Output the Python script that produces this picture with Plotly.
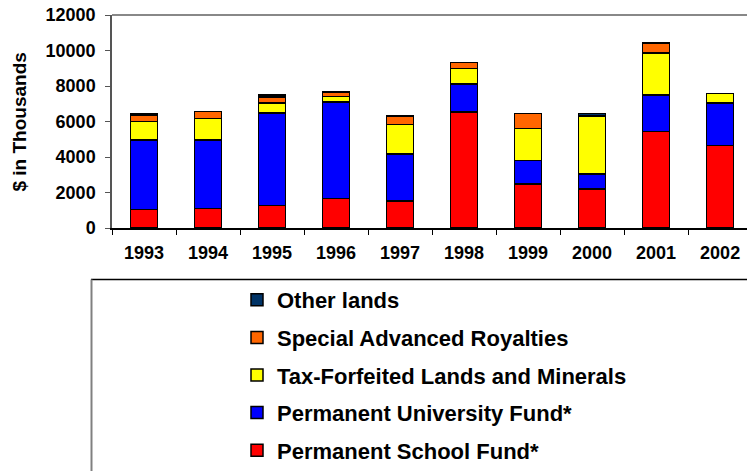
import plotly.graph_objects as go

years = ["1993", "1994", "1995", "1996", "1997", "1998", "1999", "2000", "2001", "2002"]
school = [1030, 1090, 1260, 1660, 1510, 6540, 2470, 2200, 5440, 4650]
university = [3940, 3880, 5220, 5440, 2670, 1580, 1320, 830, 2040, 2380]
tax_forfeited = [1020, 1190, 550, 300, 1660, 870, 1820, 3260, 2390, 540]
special = [340, 400, 360, 250, 470, 340, 850, 30, 550, None]
other = [90, None, 110, 20, None, None, None, 140, None, None]
y_ticks = [0, 2000, 4000, 6000, 8000, 10000, 12000]

series = [
    ("Permanent School Fund*", school, "#FF0000"),
    ("Permanent University Fund*", university, "#0000FF"),
    ("Tax-Forfeited Lands and Minerals", tax_forfeited, "#FFFF00"),
    ("Special Advanced Royalties", special, "#FF6600"),
    ("Other lands", other, "#003366"),
]

W, H = 747, 471
L, T, B = 112, 15, 243
pw = W - L
ph = H - T - B

fig = go.Figure()
n = len(series)
for i, (name, vals, color) in enumerate(series):
    fig.add_trace(go.Bar(
        x=years, y=vals, name=name, legendgroup=name, legendrank=(n - i) * 10,
        marker=dict(color=color, line=dict(color="#000000", width=1.5)),
    ))

font_family = "Arial, Liberation Sans, sans-serif"

def px_x(p):
    return (p - L) / pw

def px_y(p):
    return (H - B - p) / ph

fig.update_layout(
    width=W, height=H,
    margin=dict(l=L, r=0, t=T, b=B, autoexpand=False),
    barmode="stack", bargap=0.58,
    plot_bgcolor="white", paper_bgcolor="white",
    font=dict(family=font_family, color="#000000"),
    showlegend=True,
    legend=dict(
        x=px_x(237), xanchor="left",
        y=px_y(279), yanchor="top",
        traceorder="grouped",
        tracegroupgap=6,
        font=dict(size=22, family=font_family, color="#000000", weight="bold"),
        bgcolor="rgba(0,0,0,0)", borderwidth=0,
    ),
    xaxis=dict(
        type="category", range=[-0.5, 9.42],
        showline=True, linecolor="#000000", linewidth=1.5,
        ticks="outside", tickson="boundaries", ticklen=5, tickcolor="#000000", tickwidth=1,
        tickfont=dict(size=18, family=font_family, color="#000000", weight="bold"),
        ticklabelstandoff=8,
        showgrid=False, zeroline=False, fixedrange=True,
    ),
    yaxis=dict(
        range=[0, 12000], tickvals=y_ticks, tickformat="d",
        showline=True, linecolor="#555555", linewidth=1.5,
        ticks="outside", ticklen=5, tickcolor="#555555", tickwidth=1,
        tickfont=dict(size=18, family=font_family, color="#000000", weight="bold"),
        ticklabelstandoff=6,
        showgrid=False, zeroline=False, fixedrange=True,
    ),
    annotations=[dict(
        text="$ in Thousands", textangle=-90, showarrow=False,
        xref="paper", yref="paper", x=px_x(19), y=0.5,
        xanchor="center", yanchor="middle",
        font=dict(size=19, family=font_family, color="#000000", weight="bold"),
    )],
    shapes=[
        dict(type="line", xref="paper", yref="paper", x0=0, x1=1, y0=1, y1=1,
             line=dict(color="#888888", width=2)),
        dict(type="line", xref="paper", yref="paper", x0=px_x(91), x1=1.01,
             y0=px_y(279.5), y1=px_y(279.5), line=dict(color="#000000", width=1.5)),
        dict(type="line", xref="paper", yref="paper", x0=px_x(91.5), x1=px_x(91.5),
             y0=px_y(279.5), y1=px_y(475), line=dict(color="#808080", width=2)),
    ],
)

fig.write_html(
    "out.html",
    config={"displayModeBar": False},
    post_script="document.body.style.margin='0';document.body.style.overflow='hidden';",
)
